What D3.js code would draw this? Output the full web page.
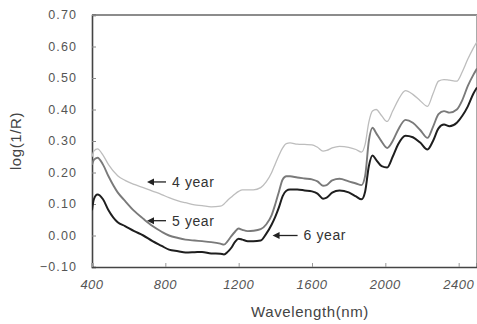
<!DOCTYPE html>
<html><head><meta charset="utf-8">
<script src="https://cdn.jsdelivr.net/npm/d3@7"></script>
<style>body{margin:0;background:#fff}svg{display:block}</style>
</head><body>
<svg id="c" width="477" height="324"></svg>
<script>
const wavelengths = [400,410,430,460,490,540,580,630,680,730,780,820,870,910,960,1000,1050,1100,1120,1140,1160,1180,1200,1220,1250,1280,1320,1350,1380,1400,1420,1440,1460,1480,1520,1560,1600,1630,1660,1680,1710,1750,1800,1840,1870,1890,1910,1930,1950,1980,2010,2040,2070,2110,2150,2190,2230,2260,2290,2320,2350,2390,2420,2450,2480,2500];
const year6 = [0.08,0.115,0.13,0.115,0.08,0.042,0.03,0.014,0.0,-0.018,-0.033,-0.045,-0.05,-0.054,-0.053,-0.052,-0.057,-0.058,-0.06,-0.052,-0.039,-0.02,-0.01,-0.013,-0.018,-0.018,-0.016,0.005,0.035,0.06,0.09,0.125,0.142,0.146,0.146,0.143,0.14,0.133,0.117,0.12,0.136,0.143,0.137,0.124,0.115,0.14,0.22,0.254,0.24,0.22,0.216,0.25,0.29,0.317,0.312,0.295,0.273,0.3,0.34,0.352,0.347,0.358,0.38,0.41,0.45,0.47];
const year5 = [0.225,0.24,0.247,0.225,0.188,0.137,0.11,0.078,0.053,0.03,0.012,0.0,-0.008,-0.013,-0.016,-0.018,-0.021,-0.026,-0.029,-0.018,-0.002,0.012,0.022,0.018,0.014,0.015,0.02,0.035,0.065,0.1,0.14,0.178,0.188,0.188,0.184,0.181,0.178,0.172,0.158,0.16,0.175,0.18,0.172,0.165,0.16,0.19,0.3,0.342,0.325,0.298,0.278,0.3,0.336,0.367,0.358,0.335,0.31,0.345,0.385,0.395,0.39,0.4,0.43,0.475,0.51,0.53];
const year4 = [0.25,0.268,0.275,0.255,0.225,0.19,0.175,0.162,0.152,0.141,0.13,0.12,0.11,0.104,0.097,0.095,0.091,0.093,0.1,0.112,0.122,0.132,0.14,0.145,0.145,0.145,0.152,0.17,0.2,0.228,0.255,0.278,0.292,0.294,0.29,0.289,0.288,0.28,0.268,0.27,0.278,0.283,0.28,0.273,0.265,0.29,0.36,0.395,0.4,0.38,0.362,0.395,0.43,0.46,0.448,0.428,0.41,0.45,0.49,0.495,0.493,0.49,0.52,0.56,0.595,0.615];
const xTicks = [400,800,1200,1600,2000,2400];
const yTicks = [-0.1,0,0.1,0.2,0.3,0.4,0.5,0.6,0.7];
const seriesNames = ["4 year","5 year","6 year"];
const seriesColors = ["#bdbdbd","#7a7a7a","#1e1e1e"];
const annWl = [700,700,1385];
const annVal = [0.17,0.047,0.0];

const svg = d3.select("#c");
const L=92,R=477,T=15,B=267;
const x = d3.scaleLinear().domain([400,2500]).range([L,R]);
const y = d3.scaleLinear().domain([-0.1,0.7]).range([B,T]);

svg.append("defs").append("clipPath").attr("id","clip").append("rect")
  .attr("x",L).attr("y",T).attr("width",R-L).attr("height",B-T);

// frame
svg.append("line").attr("x1",L).attr("x2",R).attr("y1",T).attr("y2",T).attr("stroke","#666").attr("stroke-width",1.6);
svg.append("line").attr("x1",R-0.5).attr("x2",R-0.5).attr("y1",T).attr("y2",B).attr("stroke","#aaa").attr("stroke-width",1);

// axes
const yAxis = d3.axisRight(y).tickValues(yTicks).tickSize(4).tickFormat(d=>"");
const gy = svg.append("g").attr("transform",`translate(${L},0)`).call(yAxis);
gy.select(".domain").attr("stroke","#444").attr("stroke-width",1.6);
gy.selectAll(".tick line").attr("stroke","#888");
const fmtY = d => (d<0?"\u2212":"")+Math.abs(d).toFixed(2);
svg.append("g").selectAll("text").data(yTicks).join("text")
  .attr("x",77).attr("y",d=>y(d)).attr("dy","0.35em").attr("text-anchor","end")
  .attr("font-family","Liberation Sans, Arial, sans-serif").attr("font-size",12.5)
  .attr("letter-spacing",1.1).attr("fill","#555").text(fmtY);

const xAxis = d3.axisTop(x).tickValues(xTicks).tickSize(4).tickFormat(d=>"");
const gx = svg.append("g").attr("transform",`translate(0,${B})`).call(xAxis);
gx.select(".domain").attr("stroke","#444").attr("stroke-width",1.6);
gx.selectAll(".tick line").attr("stroke","#999");
svg.append("g").selectAll("text").data(xTicks).join("text")
  .attr("x",d=>x(d)).attr("y",B+22).attr("text-anchor","middle")
  .attr("font-family","Liberation Sans, Arial, sans-serif").attr("font-size",13)
  .attr("font-style","italic").attr("letter-spacing",0.5).attr("fill","#555").text(d=>d);

svg.append("text").attr("x",310).attr("y",317).attr("text-anchor","middle")
  .attr("font-family","Liberation Sans, Arial, sans-serif").attr("font-size",15)
  .attr("letter-spacing",0.6).attr("fill","#444").text("Wavelength(nm)");
svg.append("text").attr("transform","translate(21,141) rotate(-90)").attr("text-anchor","middle")
  .attr("font-family","Liberation Sans, Arial, sans-serif").attr("font-size",15)
  .attr("letter-spacing",0.6).attr("fill","#444").text("log(1/R)");

// lines
const series = [year4, year5, year6];
const widths = [1.3,1.9,2.0];
const line = d3.line().x((d,i)=>x(wavelengths[i])).y(d=>y(d)).curve(d3.curveMonotoneX);
svg.append("g").attr("clip-path","url(#clip)").selectAll("path").data(series).join("path")
  .attr("d",line).attr("fill","none")
  .attr("stroke",(d,i)=>seriesColors[i]).attr("stroke-width",(d,i)=>widths[i])
  .attr("stroke-linejoin","round");

// annotations
const ann = svg.append("g");
annWl.forEach((wl,i)=>{
  const ax = x(wl), ay = y(annVal[i]);
  const len = i===2?25:19;
  ann.append("path").attr("d",`M${ax},${ay} l7,-3.5 l0,7 z`).attr("fill","#222");
  ann.append("line").attr("x1",ax+6).attr("x2",ax+len).attr("y1",ay).attr("y2",ay).attr("stroke","#222").attr("stroke-width",1.3);
  ann.append("text").attr("x",ax+len+6).attr("y",ay).attr("dy","0.35em")
    .attr("font-family","Liberation Sans, Arial, sans-serif").attr("font-size",14)
    .attr("letter-spacing",0.6).attr("fill","#333").text(seriesNames[i]);
});
</script>
</body></html>
